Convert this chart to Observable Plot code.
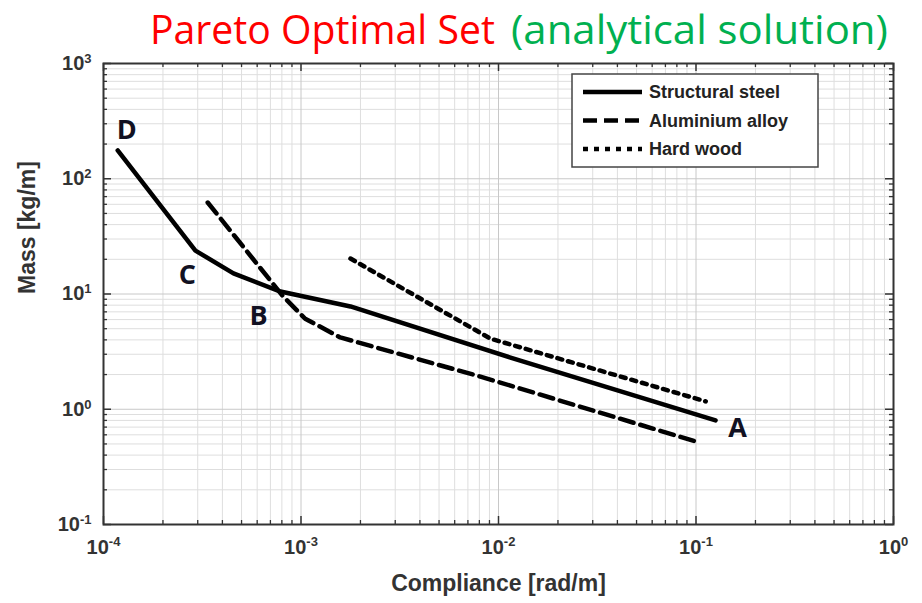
<!DOCTYPE html>
<html><head><meta charset="utf-8">
<script src="https://cdn.jsdelivr.net/npm/d3@7"></script>
<script src="https://cdn.jsdelivr.net/npm/@observablehq/plot@0.6"></script>
<style>
body{margin:0;background:#fff;}
#wrap{position:relative;width:922px;height:603px;}
</style></head><body><div id="wrap"></div>
<script>
// ---- data ----
const seriesNames = ["Structural steel", "Aluminium alloy", "Hard wood"];
const steelCompliance = [1.18e-4, 2.92e-4, 4.55e-4, 7.87e-4, 1.78e-3, 1.15e-2, 0.1256];
const steelMass       = [176, 23.8, 15.1, 10.5, 7.8, 2.81, 0.80];
const aluCompliance   = [3.37e-4, 8.05e-4, 1.05e-3, 1.58e-3, 8.1e-3, 0.1054];
const aluMass         = [62.2, 9.7, 6.1, 4.2, 1.92, 0.51];
const woodCompliance  = [1.78e-3, 9.1e-3, 0.112];
const woodMass        = [20.3, 4.1, 1.17];
const pointLabels     = ["A", "B", "C", "D"];
const pointLabelIndex = [6, 3, 1, 0]; // index into the steel series
const xTicks = [1e-4, 1e-3, 1e-2, 1e-1, 1e0];
const yTicks = [1e-1, 1e0, 1e1, 1e2, 1e3];
const titleRed = "Pareto Optimal Set";
const titleGreen = "(analytical solution)";
const xLabel = "Compliance [rad/m]";
const yLabel = "Mass [kg/m]";

// ---- layout / style ----
const W = 922, H = 603;
const mL = 103, mR = 29, mT = 63, mB = 79;
const fW = W - mL - mR, fH = H - mT - mB;
const dashes = [null, "14,7", "5,6"];
const toRows = (xs, ys) => xs.map((c, i) => ({c, m: ys[i]}));
const steel = toRows(steelCompliance, steelMass);
const alu = toRows(aluCompliance, aluMass);
const wood = toRows(woodCompliance, woodMass);
const minorOf = ticks => ticks.slice(0, -1).flatMap(d => d3.range(2, 10).map(k => d * k));
const minorX = minorOf(xTicks), minorY = minorOf(yTicks);
const exp = d => Math.round(Math.log10(d));
const labelOffsets = {A: [22, 8], B: [-22, 25], C: [-8, 25], D: [9, -20]};

const axisFont = "'Liberation Sans', Arial, sans-serif";
const plot = Plot.plot({
  width: W, height: H, marginLeft: mL, marginRight: mR, marginTop: mT, marginBottom: mB,
  style: {background: "transparent", fontFamily: axisFont, overflow: "visible"},
  x: {type: "log", domain: [1e-4, 1], axis: null},
  y: {type: "log", domain: [0.1, 1000], axis: null},
  marks: [
    Plot.gridX(minorX, {stroke: "#dedede", strokeOpacity: 1, strokeWidth: 1}),
    Plot.gridY(minorY, {stroke: "#dedede", strokeOpacity: 1, strokeWidth: 1}),
    Plot.gridX(xTicks, {stroke: "#c8c8c8", strokeOpacity: 1, strokeWidth: 1}),
    Plot.gridY(yTicks, {stroke: "#c8c8c8", strokeOpacity: 1, strokeWidth: 1}),
    // inward ticks on all four sides
    Plot.tickX(minorX, {x: d => d, insetTop: fH - 4, stroke: "#333", strokeWidth: 1.3}),
    Plot.tickX(minorX, {x: d => d, insetBottom: fH - 4, stroke: "#333", strokeWidth: 1.3}),
    Plot.tickX(xTicks, {x: d => d, insetTop: fH - 8, stroke: "#333", strokeWidth: 1.5}),
    Plot.tickX(xTicks, {x: d => d, insetBottom: fH - 8, stroke: "#333", strokeWidth: 1.5}),
    Plot.tickY(minorY, {y: d => d, insetRight: fW - 4, stroke: "#333", strokeWidth: 1.3}),
    Plot.tickY(minorY, {y: d => d, insetLeft: fW - 4, stroke: "#333", strokeWidth: 1.3}),
    Plot.tickY(yTicks, {y: d => d, insetRight: fW - 8, stroke: "#333", strokeWidth: 1.5}),
    Plot.tickY(yTicks, {y: d => d, insetLeft: fW - 8, stroke: "#333", strokeWidth: 1.5}),
    Plot.frame({stroke: "#333", strokeWidth: 2}),
    // tick labels
    Plot.text(xTicks, {x: d => d, frameAnchor: "bottom", dy: 29, text: d => `10^${exp(d)}`,
      className: "ticklbl", fontSize: 20, fontWeight: "bold", fill: "#333"}),
    Plot.text(yTicks, {y: d => d, frameAnchor: "left", dx: -12, textAnchor: "end", text: d => `10^${exp(d)}`,
      className: "ticklbl", fontSize: 20, fontWeight: "bold", fill: "#333"}),
    // axis titles
    Plot.text([xLabel], {frameAnchor: "bottom", dy: 66, text: d => d, fontSize: 23, fontWeight: "bold", fill: "#333"}),
    Plot.text([yLabel], {frameAnchor: "left", dx: -76, rotate: -90, text: d => d, fontSize: 23, fontWeight: "bold", fill: "#333"}),
    // series
    Plot.line(steel, {x: "c", y: "m", stroke: "#000", strokeWidth: 4.5, strokeLinejoin: "round"}),
    Plot.line(alu, {x: "c", y: "m", stroke: "#000", strokeWidth: 4.5, strokeDasharray: dashes[1]}),
    Plot.line(wood, {x: "c", y: "m", stroke: "#000", strokeWidth: 4.5, strokeDasharray: dashes[2]}),
    // point labels
    ...pointLabels.map((t, i) => Plot.text([steel[pointLabelIndex[i]]], {
      x: "c", y: "m", text: () => t, dx: labelOffsets[t][0], dy: labelOffsets[t][1],
      fontSize: 27, fontWeight: 700, fontFamily: "'Open Sans', sans-serif", fill: "#111122"
    }))
  ]
});

const svg = d3.select(plot);
// superscript exponents on tick labels
svg.selectAll("g.ticklbl text").each(function () {
  const s = this.textContent;
  if (!s.includes("^")) return;
  const [base, e] = s.split("^");
  const t = d3.select(this);
  t.text(null);
  t.append("tspan").text(base);
  t.append("tspan").attr("dy", "-0.55em").attr("font-size", "13px").text(e);
});

// legend
const lg = svg.append("g").attr("transform", "translate(572,74)").attr("text-anchor", "start");
lg.append("rect").attr("width", 246).attr("height", 93).attr("fill", "#fff")
  .attr("stroke", "#444").attr("stroke-width", 1.5);
seriesNames.forEach((name, i) => {
  const y = 18 + i * 28.5;
  lg.append("line").attr("x1", 11).attr("x2", 70).attr("y1", y).attr("y2", y)
    .attr("stroke", "#000").attr("stroke-width", 4.5)
    .attr("stroke-dasharray", dashes[i]);
  lg.append("text").attr("x", 77).attr("y", y).attr("dy", "0.36em").attr("text-anchor", "start")
    .attr("font-family", axisFont).attr("font-weight", "bold").attr("font-size", 18)
    .attr("fill", "#222").text(name);
});

document.getElementById("wrap").appendChild(plot);

// title: two parts, each fitted horizontally to the reference's extent
const titleParts = [
  {text: titleRed, color: "#ff0000", x0: 150, x1: 495},
  {text: titleGreen, color: "#00b050", x0: 511, x1: 888}
];
titleParts.forEach(p => {
  const g = svg.append("g");
  const t = g.append("text").attr("x", 0).attr("y", 0).attr("text-anchor", "start")
    .attr("font-family", "'Open Sans', sans-serif").attr("font-size", 40)
    .attr("fill", p.color).text(p.text);
  const w = t.node().getComputedTextLength();
  g.attr("transform", `translate(${p.x0},44) scale(${(p.x1 - p.x0) / w},1)`);
});
</script>
</body></html>
